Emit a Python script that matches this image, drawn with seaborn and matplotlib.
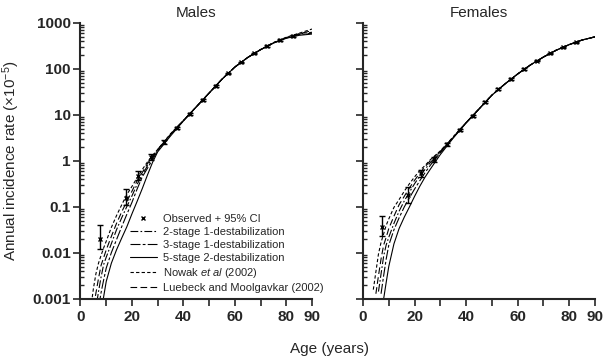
import numpy as np
import pandas as pd
import matplotlib
matplotlib.use("Agg")
import matplotlib.pyplot as plt
import seaborn as sns
from matplotlib.lines import Line2D
from matplotlib.legend_handler import HandlerLine2D

nan = np.nan

# model curves, annual incidence rate (x10^-5)
AGES = [4, 5, 6, 7, 8, 9, 10, 12, 14, 16, 18, 20, 22, 24, 26, 28, 30,
        35, 40, 45, 50, 55, 60, 65, 70, 75, 80, 85, 90]

M_2STAGE = [3.2e-5, 0.0002, 0.00063, 0.00145, 0.003, 0.0056, 0.0081, 0.016, 0.032, 0.058, 0.102, 0.174, 0.31, 0.5, 0.78, 1.17, 1.74,
            3.8, 7.6, 15, 30, 60, 110, 178, 263, 370, 478, 575, 630]
M_3STAGE = [1e-5, 6.3e-5, 0.00025, 0.00063, 0.00138, 0.0026, 0.0047, 0.0102, 0.0195, 0.037, 0.069, 0.126, 0.245, 0.45, 0.69, 1.07, 1.66,
            3.7, 7.5, 15, 30, 60, 110, 178, 263, 368, 472, 560, 600]
M_5STAGE = [1e-6, 1e-5, 5e-5, 0.0002, 0.0005, 0.00112, 0.0024, 0.006, 0.0117, 0.021, 0.037, 0.071, 0.132, 0.25, 0.49, 0.93, 1.58,
            3.5, 7.4, 15, 30, 60, 110, 178, 262, 365, 465, 540, 575]
M_NOWAK = [0.00063, 0.00166, 0.00355, 0.006, 0.0089, 0.0129, 0.018, 0.036, 0.065, 0.111, 0.186, 0.28, 0.43, 0.65, 0.95, 1.32, 1.78,
           3.9, 7.6, 15, 30, 60, 110, 178, 265, 375, 490, 600, 740]
M_LUEBECK = [0.00016, 0.00063, 0.00135, 0.0028, 0.0054, 0.0079, 0.0117, 0.023, 0.044, 0.078, 0.132, 0.22, 0.37, 0.56, 0.87, 1.26, 1.78,
             3.85, 7.6, 15, 30, 60, 110, 178, 264, 372, 480, 585, 680]

F_2STAGE = [nan, nan, 0.00145, 0.0035, 0.0085, 0.015, 0.022, 0.044, 0.081, 0.135, 0.21, 0.32, 0.47, 0.65, 0.91, 1.2, 1.58,
            3.3, 6.8, 13.5, 27, 47, 78, 123, 182, 257, 339, 427, 500]
F_3STAGE = [nan, nan, nan, 0.0013, 0.0032, 0.0074, 0.0148, 0.032, 0.058, 0.1, 0.158, 0.245, 0.37, 0.55, 0.79, 1.12, 1.51,
            3.25, 6.8, 13.5, 27, 47, 78, 123, 182, 257, 339, 427, 500]
F_5STAGE = [nan, nan, nan, nan, 0.001, 0.0023, 0.0051, 0.0158, 0.034, 0.06, 0.1, 0.17, 0.28, 0.44, 0.65, 0.95, 1.38,
            3.15, 6.7, 13.5, 27, 47, 78, 123, 182, 257, 339, 427, 500]
F_NOWAK = [0.0016, 0.0039, 0.0095, 0.017, 0.026, 0.04, 0.055, 0.098, 0.145, 0.22, 0.32, 0.45, 0.62, 0.79, 1.05, 1.32, 1.66,
           3.35, 6.85, 13.5, 27, 47, 78, 123, 182, 257, 339, 427, 500]
F_LUEBECK = [nan, 0.0013, 0.0032, 0.0074, 0.0148, 0.022, 0.034, 0.063, 0.112, 0.17, 0.26, 0.38, 0.54, 0.74, 1.0, 1.29, 1.62,
             3.3, 6.8, 13.5, 27, 47, 78, 123, 182, 257, 339, 427, 500]

# observed rates with 95% CI
OBS_AGES = [7.5, 17.5, 22.5, 27.5, 32.5, 37.5, 42.5, 47.5, 52.5, 57.5, 62.5, 67.5, 72.5, 77.5, 82.5]
M_OBS = [0.02, 0.16, 0.47, 1.22, 2.6, 5.3, 10.3, 21, 43, 80, 140, 219, 316, 427, 520]
M_LO = [0.012, 0.11, 0.39, 1.05, 2.4, 5.0, 9.8, 20, 41, 77, 135, 212, 306, 412, 500]
M_HI = [0.04, 0.245, 0.6, 1.4, 2.85, 5.6, 10.8, 22, 45, 83, 145, 226, 326, 442, 540]
F_OBS = [0.037, 0.18, 0.54, 1.09, 2.3, 4.7, 9.5, 19.5, 36.5, 60.6, 100, 152, 219, 295, 380]
F_LO = [0.023, 0.12, 0.45, 0.95, 2.1, 4.4, 9.0, 18.6, 35, 58.5, 97, 147, 212, 285, 366]
F_HI = [0.063, 0.27, 0.65, 1.25, 2.5, 5.0, 10.0, 20.4, 38, 62.7, 103, 157, 226, 305, 394]

MODELS = ["2-stage 1-destabilization", "3-stage 1-destabilization",
          "5-stage 2-destabilization", "Nowak $\\it{et\\ al}$ (2002)",
          "Luebeck and Moolgavkar (2002)"]
DASHES = {MODELS[0]: (7, 2, 1.5, 2), MODELS[1]: (9, 2, 2.5, 2), MODELS[2]: "",
          MODELS[3]: (3, 2), MODELS[4]: (6, 3)}

sns.set_style("ticks")
plt.rcParams["font.family"] = ["Liberation Sans", "DejaVu Sans"]
plt.rcParams["mathtext.fontset"] = "custom"
plt.rcParams["mathtext.rm"] = "Liberation Sans"
plt.rcParams["mathtext.it"] = "Liberation Sans:italic"


class LeftMarker(HandlerLine2D):
    # put the legend marker at the left end of the handle
    def get_xdata(self, legend, xdescent, ydescent, width, height, fontsize):
        xdata = np.array([-xdescent, -xdescent + width])
        return xdata, np.array([-xdescent + 0.08 * width])


def long_table(curves):
    rows = []
    for name, vals in zip(MODELS, curves):
        for a, v in zip(AGES, vals):
            rows.append({"age": a, "rate": v, "model": name})
    return pd.DataFrame(rows)


def draw_panel(ax, curves, obs, lo, hi, title, show_ylabels):
    ax.set_yscale("log")
    df = long_table(curves)
    sns.lineplot(data=df, x="age", y="rate", style="model", dashes=DASHES,
                 color="black", linewidth=0.8, legend=False, ax=ax)
    obs = np.array(obs)
    yerr = [obs - np.array(lo), np.array(hi) - obs]
    ax.errorbar(OBS_AGES, obs, yerr=yerr, fmt="x", color="black", ms=3.5,
                mew=1.0, elinewidth=1.0, capsize=2, capthick=1.0)
    ax.set_xlim(0, 90)
    ax.set_ylim(0.001, 1000)
    ax.set_xticks(range(0, 91, 10))
    ax.set_xticklabels(["0", "", "20", "", "40", "", "60", "", "80", "90"],
                       fontweight="bold", fontsize=11)
    ax.set_yticks([0.001, 0.01, 0.1, 1, 10, 100, 1000])
    if show_ylabels:
        ax.set_yticklabels(["0.001", "0.01", "0.1", "1", "10", "100", "1000"],
                           fontweight="bold", fontsize=11)
    else:
        ax.tick_params(axis="y", labelleft=False)
    ax.yaxis.set_minor_locator(matplotlib.ticker.LogLocator(base=10, subs=np.arange(2, 10)))
    ax.yaxis.set_minor_formatter(matplotlib.ticker.NullFormatter())
    ax.tick_params(axis="x", direction="out", length=5, width=1.2, pad=3)
    ax.tick_params(axis="y", which="major", direction="out", length=5, width=1.2, pad=2)
    ax.tick_params(axis="y", which="minor", direction="in", length=3, width=1.0)
    for s in ["top", "right"]:
        ax.spines[s].set_visible(False)
    for s in ["left", "bottom"]:
        ax.spines[s].set_linewidth(1.5)
    ax.set_xlabel("")
    ax.set_ylabel("")
    ax.set_title(title, fontsize=11, pad=4)


fig = plt.figure(figsize=(6.04, 3.56), dpi=100)
ax_m = fig.add_axes([80.5 / 604, 1 - 299 / 356, 231.5 / 604, 276 / 356])
ax_f = fig.add_axes([363 / 604, 1 - 299 / 356, 232 / 604, 276 / 356])

draw_panel(ax_m, [M_2STAGE, M_3STAGE, M_5STAGE, M_NOWAK, M_LUEBECK],
           M_OBS, M_LO, M_HI, "Males", True)
draw_panel(ax_f, [F_2STAGE, F_3STAGE, F_5STAGE, F_NOWAK, F_LUEBECK],
           F_OBS, F_LO, F_HI, "Females", False)

fig.text(11 / 604, 1 - 161 / 356, "Annual incidence rate (\u00d710$^{-5}$)",
         rotation=90, ha="center", va="center", fontsize=11)
fig.text(330 / 604, 1 - 349 / 356, "Age (years)", ha="center", va="center", fontsize=11)

obs_handle = Line2D([], [], color="black", marker="x", ms=3.5, mew=1.0, linestyle="none")
handles = [obs_handle]
for name in MODELS:
    h = Line2D([], [], color="black", linewidth=0.8)
    if DASHES[name]:
        h.set_dashes(DASHES[name])
    handles.append(h)
labels = ["Observed + 95% CI"] + MODELS
ax_m.legend(handles, labels, loc="upper left", bbox_to_anchor=(130 / 604, 1 - 214 / 356),
            bbox_transform=fig.transFigure, frameon=False, fontsize=8,
            handlelength=2.4, handletextpad=0.55, labelspacing=0.27,
            borderpad=0, borderaxespad=0, numpoints=1,
            handler_map={obs_handle: LeftMarker()})

fig.savefig("out.png", dpi=100)
